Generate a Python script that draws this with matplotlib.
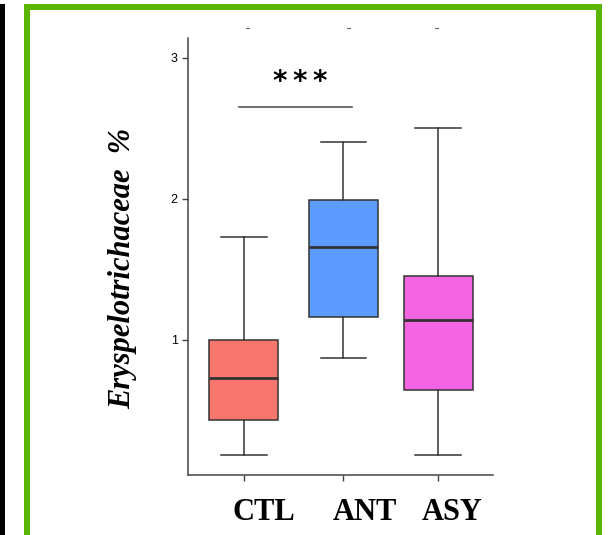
import matplotlib
matplotlib.use('Agg')
import matplotlib.pyplot as plt
from matplotlib.patches import Rectangle
from matplotlib.lines import Line2D

# box statistics
groups = ['CTL', 'ANT', 'ASY']
whislo = [0.18, 0.87, 0.18]
q1 = [0.43, 1.16, 0.64]
med = [0.73, 1.66, 1.14]
q3 = [1.00, 1.99, 1.45]
whishi = [1.73, 2.40, 2.50]
colors = ['#f8766d', '#5c9bff', '#f564e3']
positions = [1, 2, 2.95]
label_x = [1.20, 2.22, 3.09]
yticks = [1, 2, 3]

green = '#5bb400'

fig = plt.figure(figsize=(6.08, 5.35), dpi=100)
W, H = 608.0, 535.0

# black bar on the far left and green frame around the panel
fig.add_artist(Rectangle((0, 0), 5 / W, 1 - 4 / H, transform=fig.transFigure,
                         color='black', lw=0))
fig.add_artist(Rectangle((24 / W, 0), 6 / W, 1 - 4 / H, transform=fig.transFigure,
                         color=green, lw=0))
fig.add_artist(Rectangle((596 / W, 0), 6 / W, 1 - 4 / H, transform=fig.transFigure,
                         color=green, lw=0))
fig.add_artist(Rectangle((24 / W, 1 - 10 / H), 578 / W, 6 / H, transform=fig.transFigure,
                         color=green, lw=0))

# remnants of cut-off text at the top
for xp in [247, 348, 436]:
    fig.add_artist(Line2D([(xp - 1.5) / W, (xp + 1.5) / W], [1 - 28 / H, 1 - 28 / H],
                          transform=fig.transFigure, color='#666666', lw=0.8))

ax = fig.add_axes([188 / W, 1 - 475 / H, (493 - 188) / W, (475 - 38) / H])

stats = []
for i in range(len(groups)):
    stats.append({'label': groups[i], 'whislo': whislo[i], 'q1': q1[i], 'med': med[i],
                  'q3': q3[i], 'whishi': whishi[i], 'fliers': []})

bp = ax.bxp(stats, positions=positions, widths=0.69, patch_artist=True,
            showfliers=False,
            boxprops=dict(edgecolor='#333333', linewidth=1.1),
            medianprops=dict(color='#333333', linewidth=2),
            whiskerprops=dict(color='#333333', linewidth=1.1),
            capprops=dict(color='#333333', linewidth=1.1),
            capwidths=0.46)
for patch, c in zip(bp['boxes'], colors):
    patch.set_facecolor(c)

ax.set_xlim(0.44, 3.5)
ax.set_ylim(0.04, 3.14)
ax.set_yticks(yticks)
ax.set_yticklabels([str(t) for t in yticks], fontsize=9, family='Liberation Sans')
ax.set_xticks(positions)
ax.set_xticklabels([])
ax.tick_params(axis='both', length=4, width=1, color='#444444')

for s in ['top', 'right']:
    ax.spines[s].set_visible(False)
for s in ['left', 'bottom']:
    ax.spines[s].set_color('#444444')
    ax.spines[s].set_linewidth(1.1)

for x, g in zip(label_x, groups):
    ax.text(x, -0.085, g, transform=ax.get_xaxis_transform(), ha='center', va='center',
            fontsize=22, fontweight='bold', family='Liberation Serif')

# significance bar
ax.plot([0.95, 2.09], [2.65, 2.65], color='#555555', lw=1.2)
ax.text(1.57, 2.83, '*\u2009*\u2009*', ha='center', va='center', fontsize=20,
        fontweight='bold', family='DejaVu Sans')

fig.text(123 / W, 1 - 268 / H, 'Eryspelotrichaceae  %', rotation=90, ha='center', va='center',
         fontsize=22, fontweight='bold', style='italic', family='Liberation Serif')

fig.savefig('out.png', dpi=100, facecolor='white')
